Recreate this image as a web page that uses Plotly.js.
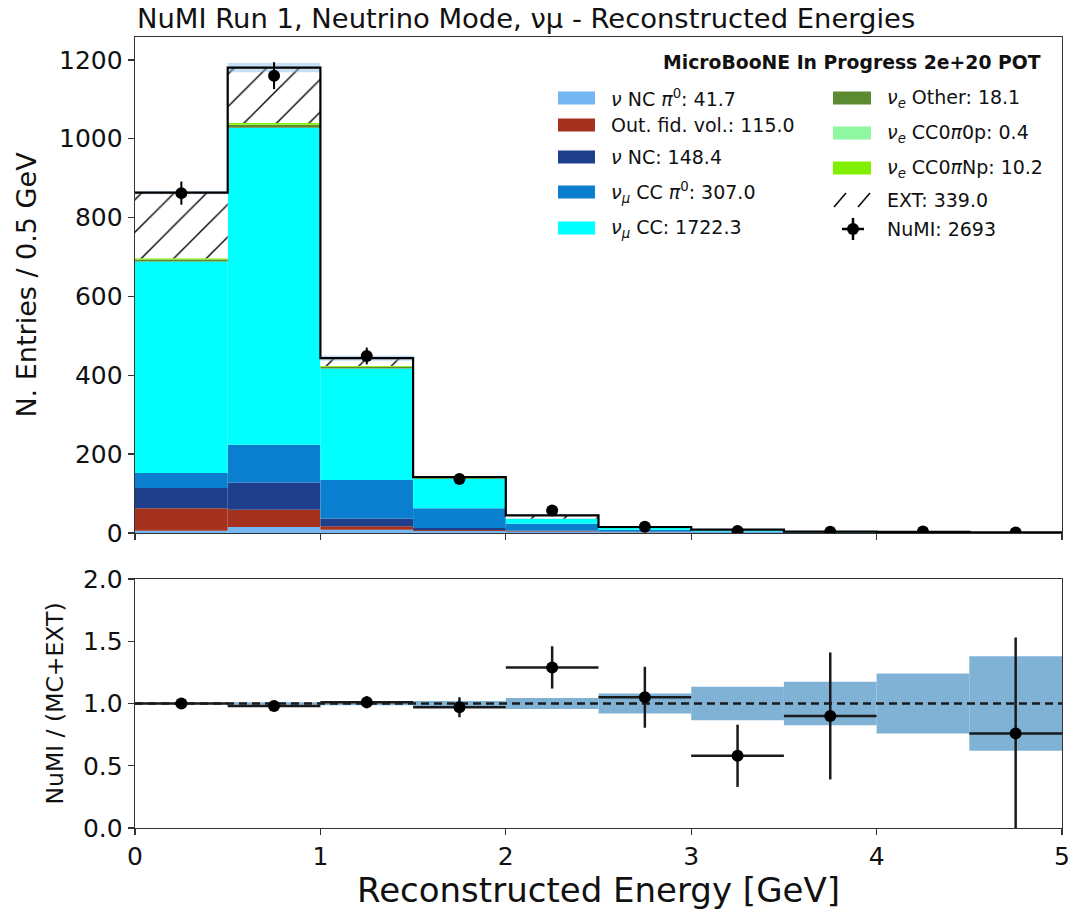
<!DOCTYPE html>
<html><head><meta charset="utf-8">
<script src="https://cdn.plot.ly/plotly-3.0.1.min.js"></script>
<style>body{margin:0;background:#fff}</style>
</head><body><div id="chart" style="width:1069px;height:910px"></div>
<script>
// ---- data ----
const binEdges   = [0, 0.5, 1, 1.5, 2, 2.5, 3, 3.5, 4, 4.5, 5];
const binCenters = [0.25, 0.75, 1.25, 1.75, 2.25, 2.75, 3.25, 3.75, 4.25, 4.75];
const nuNCpi0    = [6, 15, 8, 5, 3, 2, 1, 0.7, 0.5, 0.5];
const outFV      = [57, 44, 9, 2.5, 1.2, 0.6, 0.4, 0.2, 0.1, 0];
const nuNC       = [51, 69, 20, 5, 2, 0.8, 0.3, 0.2, 0.1, 0];
const numuCCpi0  = [38, 96, 97.5, 50, 17, 5, 2, 0.7, 0.5, 0.3];
const numuCC     = [536.8, 804, 283, 75, 13, 5.2, 3, 1.2, 0.6, 0.5];
const nueOther   = [5, 7, 4, 1.5, 0.5, 0.1, 0, 0, 0, 0];
const nueCC0p    = [0.1, 0.2, 0.1, 0, 0, 0, 0, 0, 0, 0];
const nueCCNp    = [3, 4.5, 2, 0.5, 0.2, 0, 0, 0, 0, 0];
const extBkg     = [166.4, 140.5, 20, 2, 8, 1.5, 1.8, 0.3, 1, 0.5];
const numiData   = [862, 1160, 449, 137, 57, 16, 5, 3, 4, 1];
const ratioVals  = [1.0, 0.98, 1.01, 0.97, 1.29, 1.05, 0.58, 0.90, null, 0.76];
const ratioErr   = [0.034, 0.029, 0.048, 0.08, 0.17, 0.245, 0.25, 0.51, null, 0.77];
const mcRelErr   = [0.005, 0.01, 0.015, 0.02, 0.045, 0.08, 0.135, 0.175, 0.24, 0.38];
const legendLabels = {
  ncpi0: '<i>ν</i> NC <i>π</i><sup>0</sup>: 41.7', ofv: 'Out. fid. vol.: 115.0', nc: '<i>ν</i> NC: 148.4',
  ccpi0: '<i>ν</i><sub><i>μ</i></sub> CC <i>π</i><sup>0</sup>: 307.0', cc: '<i>ν</i><sub><i>μ</i></sub> CC: 1722.3',
  nueo: '<i>ν</i><sub><i>e</i></sub> Other: 18.1', nue0p: '<i>ν</i><sub><i>e</i></sub> CC0<i>π</i>0p: 0.4',
  nueNp: '<i>ν</i><sub><i>e</i></sub> CC0<i>π</i>Np: 10.2', ext: 'EXT: 339.0', numi: 'NuMI: 2693'
};

const FONT = 'DejaVu Sans';
const comps = [
  {v: nuNCpi0, c: '#74b7f3'}, {v: outFV, c: '#a5321f'}, {v: nuNC, c: '#1f3f8c'},
  {v: numuCCpi0, c: '#0a7fd0'}, {v: numuCC, c: '#00ffff'}, {v: nueOther, c: '#5c8a30'},
  {v: nueCC0p, c: '#8ff7a0'}, {v: nueCCNp, c: '#80f000'}
];
const traces = [];
let cum = binCenters.map(() => 0);
comps.forEach(cp => {
  traces.push({type: 'bar', x: binCenters, y: cp.v, base: cum.slice(), width: 0.5,
    marker: {color: cp.c, line: {width: 0}}, xaxis: 'x', yaxis: 'y', showlegend: false, hoverinfo: 'skip'});
  cum = cum.map((s, i) => s + cp.v[i]);
});
traces.push({type: 'bar', x: binCenters, y: extBkg, base: cum.slice(), width: 0.5,
  marker: {color: 'white', line: {width: 0},
    pattern: {shape: '/', fgcolor: 'black', bgcolor: 'white', size: 23, solidity: 0.06}},
  xaxis: 'x', yaxis: 'y', showlegend: false, hoverinfo: 'skip'});
const totals = cum.map((s, i) => s + extBkg[i]);
// MC stat band on top panel
traces.push({type: 'bar', x: binCenters, y: totals.map((t, i) => 2 * t * mcRelErr[i]),
  base: totals.map((t, i) => t * (1 - mcRelErr[i])), width: 0.5,
  marker: {color: 'rgba(130,185,230,0.45)', line: {width: 0}}, xaxis: 'x', yaxis: 'y', showlegend: false, hoverinfo: 'skip'});
// outline
traces.push({type: 'scatter', mode: 'lines', x: binEdges, y: totals.concat([totals[totals.length - 1]]),
  line: {shape: 'hv', color: 'black', width: 2.2}, xaxis: 'x', yaxis: 'y', showlegend: false, hoverinfo: 'skip'});
// data
traces.push({type: 'scatter', mode: 'markers', x: binCenters, y: numiData,
  marker: {color: 'black', size: 12},
  error_y: {type: 'data', array: numiData.map(v => Math.sqrt(v)), color: 'black', thickness: 2, width: 0},
  xaxis: 'x', yaxis: 'y', showlegend: false, cliponaxis: true});
// ratio band
traces.push({type: 'bar', x: binCenters, y: mcRelErr.map(e => 2 * e), base: mcRelErr.map(e => 1 - e), width: 0.5,
  marker: {color: '#80b2d6', line: {width: 0}}, xaxis: 'x2', yaxis: 'y2', showlegend: false, hoverinfo: 'skip'});
traces.push({type: 'scatter', mode: 'lines', x: [binEdges[0], binEdges[binEdges.length - 1]], y: [1, 1],
  line: {color: '#1a1a1a', width: 2.5, dash: '8px,5px'}, xaxis: 'x2', yaxis: 'y2', showlegend: false, hoverinfo: 'skip'});
traces.push({type: 'scatter', mode: 'markers', x: binCenters, y: ratioVals,
  marker: {color: 'black', size: 12},
  error_y: {type: 'data', array: ratioErr, color: '#1a1a1a', thickness: 2.5, width: 0},
  error_x: {type: 'data', array: binCenters.map(() => 0.25), color: '#1a1a1a', thickness: 2.5, width: 0},
  xaxis: 'x2', yaxis: 'y2', showlegend: false});

// ---- manual legend (pixel -> paper) ----
const L = 135, R = 1062, T = 37, B = 828;
const PX = p => (p - L) / (R - L), PY = p => (B - p) / (B - T);
const shapes = [], ann = [];
function patch(x0, x1, yc, col) {
  shapes.push({type: 'rect', xref: 'paper', yref: 'paper', x0: PX(x0), x1: PX(x1), y0: PY(yc + 6.5), y1: PY(yc - 6.5),
    fillcolor: col, line: {width: 0}});
}
function label(x, yc, txt) {
  ann.push({xref: 'paper', yref: 'paper', x: PX(x), y: PY(yc), xanchor: 'left', yanchor: 'middle', showarrow: false,
    text: txt, font: {family: FONT, size: 19, color: '#111'}});
}
const col1 = [[98, comps[0].c, legendLabels.ncpi0], [125, comps[1].c, legendLabels.ofv], [157, comps[2].c, legendLabels.nc],
  [192, comps[3].c, legendLabels.ccpi0], [228, comps[4].c, legendLabels.cc]];
col1.forEach(r => { patch(558, 595, r[0], r[1]); label(609, r[0], r[2]); });
const col2 = [[98, comps[5].c, legendLabels.nueo], [133, comps[6].c, legendLabels.nue0p], [168, comps[7].c, legendLabels.nueNp]];
col2.forEach(r => { patch(833, 871, r[0], r[1]); label(885, r[0], r[2]); });
// EXT hatch symbol
[[834, 846], [858, 870]].forEach(s => shapes.push({type: 'line', xref: 'paper', yref: 'paper',
  x0: PX(s[0]), x1: PX(s[1]), y0: PY(207), y1: PY(193), line: {color: 'black', width: 1.5}}));
label(885, 200, legendLabels.ext);
// NuMI marker symbol
shapes.push({type: 'line', xref: 'paper', yref: 'paper', x0: PX(842), x1: PX(864), y0: PY(229), y1: PY(229), line: {color: 'black', width: 2.5}});
shapes.push({type: 'line', xref: 'paper', yref: 'paper', x0: PX(853), x1: PX(853), y0: PY(218), y1: PY(240), line: {color: 'black', width: 2.5}});
shapes.push({type: 'circle', xref: 'paper', yref: 'paper', x0: PX(847), x1: PX(859), y0: PY(235), y1: PY(223), fillcolor: 'black', line: {width: 0}});
label(885, 229, legendLabels.numi);
ann.push({xref: 'paper', yref: 'paper', x: PX(1043), y: PY(63), xanchor: 'right', yanchor: 'middle', showarrow: false,
  text: '<b>MicroBooNE In Progress 2e+20 POT</b>', font: {family: FONT, size: 18.8, color: '#111'}});

const axLine = {showline: true, linecolor: '#333', linewidth: 1.3, mirror: true, ticks: 'outside', ticklen: 6,
  tickcolor: '#333', tickwidth: 1.3, showgrid: false, zeroline: false, ticklabeloverflow: 'allow'};
const layout = {
  width: 1069, height: 910, paper_bgcolor: 'white', plot_bgcolor: 'white',
  margin: {l: L, r: 1069 - R, t: T, b: 910 - B},
  barmode: 'overlay', showlegend: false,
  font: {family: FONT, color: '#111'},
  title: {text: 'NuMI Run 1, Neutrino Mode, νμ - Reconstructed Energies', xref: 'container', yref: 'container',
    x: 137 / 1069, xanchor: 'left', y: 1 - 18 / 910, yanchor: 'middle', font: {family: FONT, size: 27.4, color: '#111'}},
  xaxis: Object.assign({}, axLine, {domain: [0, 1], range: [0, 5], anchor: 'y', showticklabels: false, tickvals: [0, 1, 2, 3, 4, 5]}),
  yaxis: Object.assign({}, axLine, {domain: [(B - 533) / (B - T), 1], range: [0, 1258], tickvals: [0, 200, 400, 600, 800, 1000, 1200],
    tickfont: {size: 25}, title: {text: 'N. Entries / 0.5 GeV', font: {size: 27}, standoff: 14}}),
  xaxis2: Object.assign({}, axLine, {domain: [0, 1], range: [0, 5], anchor: 'y2', tickvals: [0, 1, 2, 3, 4, 5],
    tickfont: {size: 25}, title: {text: 'Reconstructed Energy [GeV]', font: {size: 34}, standoff: 6}}),
  yaxis2: Object.assign({}, axLine, {domain: [0, (B - 579) / (B - T)], range: [0, 2], tickvals: [0, 0.5, 1, 1.5, 2],
    tickformat: '.1f', tickfont: {size: 25}, title: {text: 'NuMI / (MC+EXT)', font: {size: 23.5}, standoff: 12}}),
  shapes: shapes, annotations: ann
};
Plotly.newPlot('chart', traces, layout, {displayModeBar: false, staticPlot: true});
</script></body></html>
